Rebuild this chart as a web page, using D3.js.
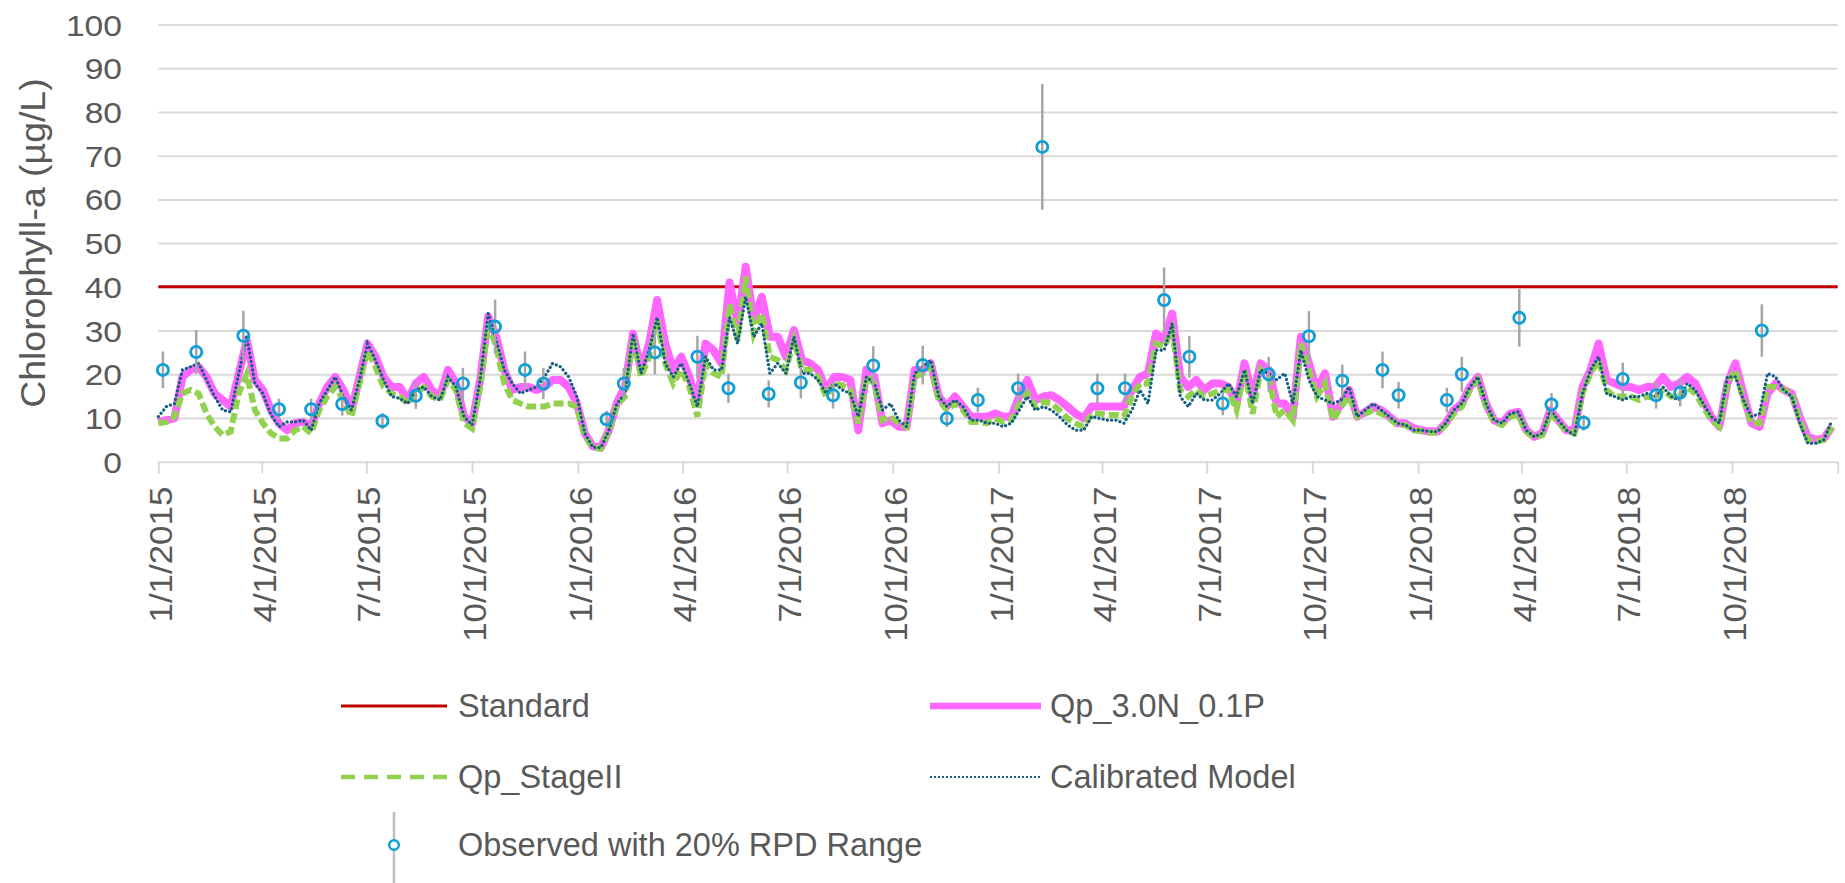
<!DOCTYPE html>
<html>
<head>
<meta charset="utf-8">
<script src="https://cdn.jsdelivr.net/npm/d3@7"></script>
<style>
  html, body { margin: 0; padding: 0; background: #ffffff; }
  svg { display: block; }
</style>
</head>
<body>
<svg id="chart" width="1845" height="883"></svg>
<script>
// ---------------- DATA ----------------
// Model series: weekly values starting 1/1/2015 (one row = one quarter, 13 weeks)
const seriesStart = "2015-01-01";
const seriesStepDays = 7;

const qp30N01P = [
  9.1, 9.5, 9.9, 19.4, 21, 21.7, 19.4, 15.6, 14.1, 12.6, 20, 27.8, 18.7,
  16.4, 11.8, 8.8, 7.2, 8.8, 9.1, 8, 13.3, 17.1, 19.4, 16.4, 11.8, 19.4,
  27, 24, 19.4, 17.1, 17.1, 14.1, 17.9, 19.4, 16.4, 14.9, 21, 17.9, 10.3,
  8.8, 18.7, 33.2, 28.6, 21, 16.4, 17.1, 17.1, 16.4, 17.1, 18.7, 18.7, 17.1,
  13.5, 6.5, 3.5, 3.2, 7.2, 13.5, 17.1, 29.3, 21, 27, 37, 27, 21,
  24, 19.4, 13.3, 27, 25.5, 22.5, 41, 31.6, 44.6, 32.4, 37.7, 28.6, 28.6,
  24, 30.1, 23.2, 22.5, 21, 16.4, 19.4, 19.4, 18.7, 7.2, 21, 19.4, 8.8,
  9.5, 8, 8, 21, 21, 22.5, 14.9, 12.6, 14.9, 12.6, 10.3, 10.3, 10.3,
  11, 10.3, 10.3, 14.9, 18.7, 14.1, 14.9, 15.2, 14.1, 12.6, 11, 9.9, 12.6,
  12.6, 12.6, 12.6, 12.6, 16.4, 19.4, 20.2, 29.3, 27.8, 33.9, 19.4, 17.1, 18.7,
  16.4, 17.9, 17.9, 17.1, 13.3, 22.5, 14.9, 22.5, 21, 13.3, 13.3, 10.3, 28.6,
  22.5, 16.4, 20.2, 10.3, 13.3, 16.4, 10.3, 11.4, 12.6, 11.8, 10.3, 8.8, 8.8,
  7.6, 7.2, 6.9, 6.9, 8.8, 11.8, 13.3, 17.1, 19.4, 13.3, 9.5, 8.8, 11,
  11.4, 7.2, 5.7, 6.5, 11.8, 9.5, 7.2, 7.2, 17.1, 21, 27, 18.7, 17.9,
  17.1, 17.1, 16.4, 17.1, 17.1, 19.4, 17.1, 17.9, 19.4, 17.9, 14.1, 10.3, 8,
  17.9, 22.5, 15.6, 8.8, 8, 15.6, 17.9, 16.4, 15.6, 10.3, 5.7, 5, 5.3,
  8
];

const qpStageII = [
  8.8, 9.1, 10.3, 15.6, 16.4, 15.6, 11, 8, 6.1, 6.9, 15.6, 20, 11.8,
  8.8, 6.5, 5.3, 5.3, 7.2, 8, 6.5, 11.8, 14.9, 17.1, 14.1, 10.3, 17.9,
  25.5, 21.7, 17.1, 15.6, 14.9, 13.3, 15.6, 17.1, 14.9, 14.1, 18.7, 16.4, 8.8,
  7.6, 17.1, 31.6, 26.3, 17.9, 14.1, 13.3, 12.6, 12.6, 12.6, 13.3, 13.3, 13.3,
  12.5, 6, 3.2, 3.0, 7.0, 13, 14.9, 28.5, 19.4, 24, 32.4, 22.5, 17.9,
  21, 17.1, 10.3, 22.5, 20.2, 19.4, 36, 27.8, 42.3, 29.3, 33.9, 24, 23.2,
  21, 27.8, 21, 21, 19.4, 14.9, 17.9, 17.5, 16.4, 8.8, 19.4, 17.9, 9.5,
  10.3, 8.8, 8, 19.4, 20.2, 21.7, 14.1, 11.8, 13.3, 11.8, 9.1, 9.1, 8.8,
  9.9, 9.1, 9.5, 13.3, 15.6, 12.6, 13.7, 13.3, 11.8, 9.9, 8.8, 8, 11,
  11, 10.7, 10.7, 10.3, 14.9, 17.9, 17.9, 27, 26.3, 30.1, 16.4, 14.9, 16.4,
  14.9, 15.6, 16.4, 16.4, 11.8, 21, 11, 21, 19.4, 10.3, 11.8, 9.5, 27,
  21, 14.9, 17.9, 9.5, 12.6, 14.9, 10.3, 11, 11.8, 11, 9.9, 8.4, 8.4,
  7.2, 7.0, 6.7, 6.7, 8.4, 11.0, 12.6, 16.4, 18.7, 12.6, 9.1, 8.4, 10.3,
  10.7, 6.9, 5.5, 6.1, 11, 9.1, 6.9, 6.5, 15.6, 20.2, 23.2, 16.4, 14.9,
  14.9, 14.9, 14.1, 14.9, 14.5, 16.4, 14.9, 14.9, 17.1, 15.6, 12.6, 9.5, 8,
  17.9, 21, 14.1, 8.8, 8.8, 17.1, 17.1, 16.4, 15.6, 9.5, 5, 4.6, 5,
  8
];

const calibratedModel = [
  10.3, 12.6, 13.3, 21, 21.7, 22.5, 18.7, 14.9, 11.8, 11.4, 20.2, 28.6, 17.9,
  15.6, 10.7, 8.0, 9.1, 9.1, 9.5, 7.2, 13.3, 16.4, 19.4, 14.9, 11.8, 18.7,
  27, 23.2, 18.7, 14.9, 14.5, 13.3, 16.4, 17.1, 14.9, 14.1, 19.4, 17.1, 10.3,
  8.4, 18.7, 33.9, 27.8, 21, 17.9, 15.6, 16.4, 17.1, 19.4, 22.5, 21.7, 19.4,
  15, 6.5, 3.3, 3.2, 7.2, 13.3, 15.6, 29.3, 20.2, 25.5, 33, 22.5, 19.4,
  22.5, 17.9, 12.6, 24, 21, 21, 33, 27, 37.7, 28.6, 31.6, 20.2, 22.5,
  20.2, 28.6, 20.2, 20.2, 18.7, 15.6, 17.9, 16.4, 15.6, 10.3, 19.4, 17.9, 11.8,
  13.3, 9.5, 8, 20.2, 21.7, 23.2, 14.9, 12.6, 14.1, 12.6, 9.5, 9.5, 8.8,
  8.8, 8, 8.8, 11.8, 14.9, 11.8, 12.6, 11.8, 10.3, 8.4, 7.2, 7.2, 10.3,
  9.9, 9.5, 9.5, 8.8, 11.8, 16.4, 13.3, 25.5, 25.5, 31.6, 14.9, 12.6, 15.6,
  14.1, 14.1, 15.6, 17.9, 14.9, 21, 13.3, 21, 20.2, 18.7, 20.2, 13.3, 25.5,
  18.7, 14.9, 14.1, 13.3, 14.1, 17.1, 10.3, 11.8, 13.3, 11.8, 10.3, 8.8, 8.4,
  7.2, 7.2, 6.9, 6.9, 8.8, 11.8, 13.3, 17.1, 19.4, 13.3, 9.5, 8.8, 11,
  11.4, 7.2, 5.7, 6.5, 11.8, 9.5, 7.2, 6.1, 15.6, 21, 24, 15.6, 14.9,
  14.1, 14.9, 14.9, 15.6, 14.9, 17.1, 14.9, 14.1, 17.9, 16.4, 13.3, 10.3, 8.8,
  19.4, 19.4, 14.1, 10.3, 11, 20.2, 19.4, 16.4, 14.9, 8.8, 4.2, 4.2, 5,
  9.5
];

// Observations (error bars = +/- 20% RPD)
const obsDates = [
  "2015-01-05","2015-02-03","2015-03-16","2015-04-16","2015-05-14","2015-06-10",
  "2015-07-15","2015-08-13","2015-09-23","2015-10-21","2015-11-16","2015-12-02",
  "2016-01-26","2016-02-10","2016-03-08","2016-04-14","2016-05-11","2016-06-15",
  "2016-07-13","2016-08-10","2016-09-14","2016-10-27","2016-11-17","2016-12-14",
  "2017-01-18","2017-02-08","2017-03-28","2017-04-21","2017-05-25","2017-06-16",
  "2017-07-15","2017-08-24","2017-09-28","2017-10-27","2017-12-01","2017-12-15",
  "2018-01-26","2018-02-08","2018-03-30","2018-04-27","2018-05-25","2018-06-28",
  "2018-07-27","2018-08-17","2018-10-27"
];
const obsValues = [
  21, 25.1, 28.8, 12, 12, 13.2, 9.3, 15.1, 17.9, 30.9, 21, 17.9,
  9.7, 17.9, 25, 24, 16.8, 15.5, 18.1, 15.2, 22, 22.1, 9.9, 14.1,
  16.8, 72, 16.8, 16.8, 37, 24, 13.3, 20, 28.7, 18.5, 21, 15.2,
  14.1, 20, 32.9, 13.1, 8.9, 18.9, 15.2, 15.8, 30
];
const rpd = 0.20;
const standardValue = 40;

const yTicks = [0, 10, 20, 30, 40, 50, 60, 70, 80, 90, 100];
const xDomain = ["2015-01-01", "2019-01-01"];
const xTickDates = [
  "2015-01-01","2015-04-01","2015-07-01","2015-10-01",
  "2016-01-01","2016-04-01","2016-07-01","2016-10-01",
  "2017-01-01","2017-04-01","2017-07-01","2017-10-01",
  "2018-01-01","2018-04-01","2018-07-01","2018-10-01",
  "2019-01-01"
];
const xTickLabels = [
  "1/1/2015","4/1/2015","7/1/2015","10/1/2015",
  "1/1/2016","4/1/2016","7/1/2016","10/1/2016",
  "1/1/2017","4/1/2017","7/1/2017","10/1/2017",
  "1/1/2018","4/1/2018","7/1/2018","10/1/2018",
  ""
];
const yTitle = "Chlorophyll-a (µg/L)";
const legendLabels = {
  standard: "Standard",
  pink: "Qp_3.0N_0.1P",
  green: "Qp_StageII",
  calibrated: "Calibrated Model",
  observed: "Observed with 20% RPD Range"
};

// ---------------- CHART ----------------
const parse = d3.utcParse("%Y-%m-%d");
const svg = d3.select("#chart");
const plot = { left: 158.3, right: 1837.7, top: 24.5, bottom: 461.7 };

const x = d3.scaleUtc().domain(xDomain.map(parse)).range([plot.left, plot.right]);
const y = d3.scaleLinear().domain([0, 100]).range([plot.bottom, plot.top]);

const textColor = "#595959";
const gridColor = "#D9D9D9";
const fontMain = "'Liberation Sans', Arial, sans-serif";

const start = parse(seriesStart);
const toPoints = arr => arr.map((v, i) => ({ date: d3.utcDay.offset(start, i * seriesStepDays), value: v }));

// gridlines
const grid = svg.append("g")
  .attr("transform", `translate(${plot.left},0)`)
  .call(d3.axisLeft(y).tickValues(yTicks.filter(t => t > 0)).tickSize(-(plot.right - plot.left)).tickFormat(""));
grid.select(".domain").remove();
grid.selectAll("line").attr("stroke", gridColor).attr("stroke-width", 2);

// y axis labels
const yAxis = svg.append("g")
  .attr("transform", "translate(122,0)")
  .call(d3.axisLeft(y).tickValues(yTicks).tickSize(0));
yAxis.select(".domain").remove();
yAxis.selectAll("text")
  .attr("x", 0).attr("dy", "0.35em")
  .attr("text-anchor", "end")
  .attr("transform", "scale(1.12,1)")
  .style("font-family", fontMain).style("font-size", "30px").attr("fill", textColor);

// x axis
const xAxis = svg.append("g")
  .attr("transform", `translate(0,${plot.bottom})`)
  .call(d3.axisBottom(x).tickValues(xTickDates.map(parse)).tickSize(12).tickSizeOuter(0)
    .tickFormat((d, i) => xTickLabels[i]));
xAxis.select(".domain").attr("stroke", gridColor).attr("stroke-width", 2);
xAxis.selectAll(".tick line").attr("stroke", gridColor).attr("stroke-width", 2);
xAxis.selectAll("text")
  .attr("x", 0).attr("y", 0).attr("dy", "0.36em")
  .attr("text-anchor", "end")
  .attr("transform", "translate(2,25) rotate(-90) scale(1.09,1)")
  .style("font-family", fontMain).style("font-size", "32px").attr("fill", textColor);

// y title
svg.append("text")
  .attr("transform", `translate(33,${(plot.top + plot.bottom) / 2}) rotate(-90) scale(1.07,1)`)
  .attr("text-anchor", "middle").attr("dy", "0.35em")
  .style("font-family", fontMain).style("font-size", "35px").attr("fill", textColor)
  .text(yTitle);

// standard line
svg.append("line")
  .attr("x1", plot.left).attr("x2", plot.right)
  .attr("y1", y(standardValue)).attr("y2", y(standardValue))
  .attr("stroke", "#C00000").attr("stroke-width", 3);

const line = d3.line().x(d => x(d.date)).y(d => y(d.value));

svg.append("path").datum(toPoints(qp30N01P))
  .attr("d", line).attr("fill", "none")
  .attr("stroke", "#FF66FF").attr("stroke-width", 8).attr("stroke-linejoin", "round");

svg.append("path").datum(toPoints(qpStageII))
  .attr("d", line).attr("fill", "none")
  .attr("stroke", "#92D050").attr("stroke-width", 6).attr("stroke-dasharray", "10 4");

svg.append("path").datum(toPoints(calibratedModel))
  .attr("d", line).attr("fill", "none")
  .attr("stroke", "#156082").attr("stroke-width", 3.2)
  .attr("stroke-linecap", "round").attr("stroke-dasharray", "0.1 4.2");

// observations
const obs = obsDates.map((d, i) => ({ date: parse(d), value: obsValues[i] }));
svg.append("g").selectAll("line").data(obs).join("line")
  .attr("x1", d => x(d.date)).attr("x2", d => x(d.date))
  .attr("y1", d => y(d.value * (1 - rpd))).attr("y2", d => y(d.value * (1 + rpd)))
  .attr("stroke", "#A6A6A6").attr("stroke-width", 2.5);
svg.append("g").selectAll("circle").data(obs).join("circle")
  .attr("cx", d => x(d.date)).attr("cy", d => y(d.value)).attr("r", 5.6)
  .attr("fill", "none").attr("stroke", "#0F9ED5").attr("stroke-width", 2.8);

// legend
const lg = svg.append("g");
function legendText(tx, ty, label) {
  lg.append("text")
    .attr("x", tx).attr("y", ty)
    .attr("dy", "0.35em")
    .style("font-family", fontMain).style("font-size", "32.5px").attr("fill", textColor)
    .text(label);
}
lg.append("line").attr("x1", 341).attr("x2", 447).attr("y1", 706).attr("y2", 706)
  .attr("stroke", "#C00000").attr("stroke-width", 3);
legendText(458, 706, legendLabels.standard);

lg.append("line").attr("x1", 930).attr("x2", 1041).attr("y1", 706).attr("y2", 706)
  .attr("stroke", "#FF66FF").attr("stroke-width", 6.5);
legendText(1050, 706, legendLabels.pink);

lg.append("line").attr("x1", 341).attr("x2", 447).attr("y1", 777).attr("y2", 777)
  .attr("stroke", "#92D050").attr("stroke-width", 4.5).attr("stroke-dasharray", "14 9");
legendText(458, 777, legendLabels.green);

lg.append("line").attr("x1", 930).attr("x2", 1041).attr("y1", 777).attr("y2", 777)
  .attr("stroke", "#156082").attr("stroke-width", 2).attr("stroke-dasharray", "2 2");
legendText(1050, 777, legendLabels.calibrated);

lg.append("line").attr("x1", 394).attr("x2", 394).attr("y1", 812).attr("y2", 883)
  .attr("stroke", "#BFBFBF").attr("stroke-width", 2.5);
lg.append("circle").attr("cx", 394).attr("cy", 845).attr("r", 4.8)
  .attr("fill", "#ffffff").attr("stroke", "#0F9ED5").attr("stroke-width", 2.5);
legendText(458, 845, legendLabels.observed);
</script>
</body>
</html>
